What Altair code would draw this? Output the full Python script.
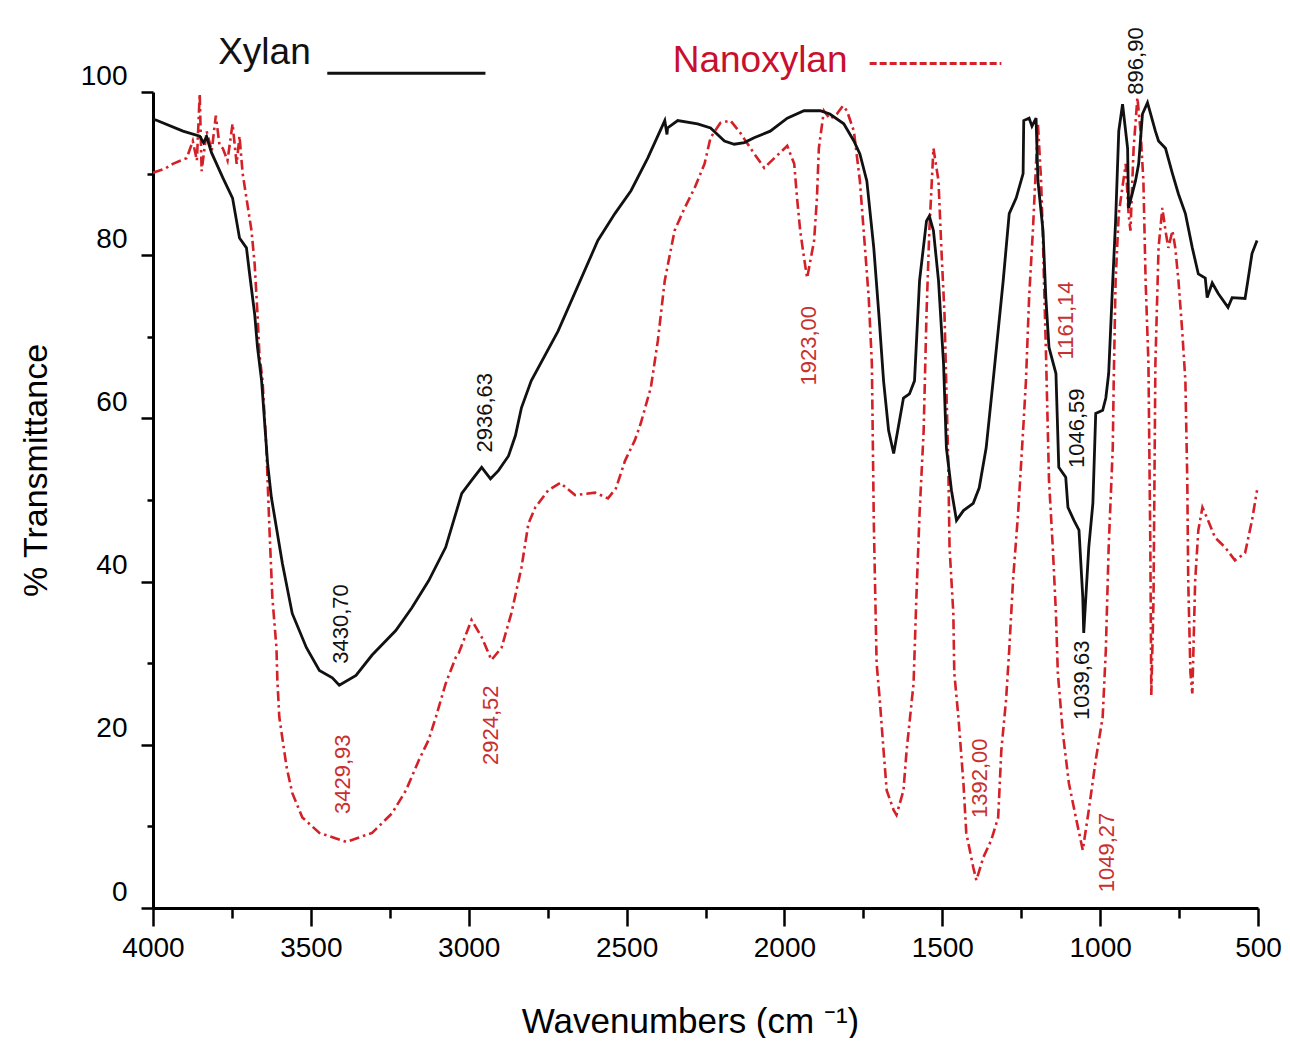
import altair as alt
import pandas as pd

# ---------------- data ----------------
xylan_wn = [4000, 3987, 3905, 3852, 3840, 3830, 3815, 3779, 3748, 3726, 3704, 3694, 3678, 3669, 3656,
            3637, 3625, 3590, 3559, 3514, 3473, 3432, 3410, 3357, 3306, 3231, 3180, 3127, 3073, 3022,
            2991, 2959, 2931, 2906, 2874, 2852, 2833, 2802, 2717, 2591, 2537, 2486, 2433, 2379, 2372,
            2370, 2338, 2275, 2234, 2190, 2159, 2127, 2096, 2045, 1991, 1938, 1887, 1856, 1812, 1780,
            1761, 1739, 1717, 1701, 1686, 1670, 1654, 1623, 1604, 1588, 1572, 1550, 1541, 1528, 1512,
            1496, 1487, 1471, 1455, 1433, 1402, 1383, 1361, 1339, 1307, 1288, 1266, 1244, 1242, 1225,
            1216, 1203, 1197, 1181, 1172, 1162, 1140, 1131, 1109, 1102, 1083, 1067, 1055, 1052, 1036,
            1023, 1014, 992, 982, 973, 960, 951, 941, 929, 913, 910, 888, 878, 866, 850, 825, 815, 793,
            771, 752, 730, 708, 689, 667, 661, 645, 626, 595, 582, 541, 532, 519, 503]
xylan_t = [96.7, 96.5, 95.2, 94.6, 93.8, 94.5, 92.6, 89.5, 87.0, 82.1, 80.9, 77.7, 72.8, 68.7, 64.6,
           54.5, 50.3, 42.2, 36.1, 31.9, 29.1, 28.2, 27.3, 28.5, 31.0, 34.0, 36.8, 40.1, 44.2, 50.8,
           52.4, 54.0, 52.6, 53.6, 55.4, 57.9, 61.3, 64.6, 70.7, 81.8, 85.1, 87.9, 91.9, 96.5, 94.8,
           95.6, 96.5, 96.1, 95.6, 94.0, 93.6, 93.8, 94.4, 95.2, 96.8, 97.7, 97.7, 97.3, 96.1, 94.0,
           92.4, 89.1, 80.9, 72.8, 64.6, 58.5, 55.7, 62.5, 63.0, 64.6, 76.9, 84.2, 84.8, 83.0, 76.9,
           66.7, 56.4, 51.2, 47.5, 48.7, 49.6, 51.5, 56.4, 64.6, 76.9, 85.1, 87.0, 90.0, 96.5, 96.8,
           95.8, 96.8, 89.1, 83.0, 74.8, 68.7, 65.5, 54.0, 52.8, 49.1, 47.5, 46.3, 38.1, 33.7, 44.2,
           49.6, 60.6, 61.0, 62.5, 65.5, 76.9, 84.2, 95.2, 98.5, 93.1, 85.8, 89.1, 91.2, 97.3, 98.7,
           95.2, 94.0, 93.1, 90.0, 87.5, 85.1, 80.9, 77.7, 77.2, 74.8, 76.6, 75.3, 73.6, 74.8, 74.7,
           76.9, 80.2, 81.8]

nano_wn = [4000, 3962, 3937, 3893, 3874, 3861, 3852, 3846, 3830, 3814, 3801, 3789, 3779, 3764, 3748,
           3735, 3726, 3716, 3704, 3688, 3678, 3669, 3663, 3653, 3641, 3637, 3631, 3622, 3609, 3606,
           3600, 3577, 3559, 3527, 3473, 3388, 3306, 3243, 3199, 3158, 3127, 3104, 3073, 3041, 3032,
           2991, 2959, 2928, 2896, 2865, 2833, 2811, 2789, 2748, 2710, 2663, 2600, 2559, 2534, 2505,
           2474, 2455, 2423, 2401, 2379, 2348, 2316, 2285, 2253, 2234, 2203, 2171, 2140, 2095, 2064,
           2032, 1991, 1969, 1960, 1950, 1938, 1928, 1906, 1897, 1891, 1875, 1856, 1834, 1815, 1802,
           1780, 1761, 1749, 1733, 1723, 1717, 1708, 1698, 1686, 1676, 1654, 1645, 1623, 1613, 1591,
           1582, 1572, 1559, 1550, 1541, 1528, 1512, 1503, 1493, 1481, 1477, 1465, 1462, 1449, 1433,
           1424, 1402, 1392, 1370, 1345, 1323, 1313, 1298, 1288, 1276, 1260, 1244, 1235, 1225, 1213,
           1203, 1197, 1187, 1181, 1178, 1172, 1162, 1150, 1140, 1134, 1118, 1099, 1077, 1055, 1036,
           1014, 992, 982, 973, 960, 957, 951, 941, 919, 910, 904, 894, 882, 872, 863, 856, 847, 841,
           838, 831, 825, 815, 803, 793, 784, 771, 762, 752, 740, 730, 724, 721, 714, 708, 699, 689,
           676, 658, 636, 604, 573, 541, 519, 503]
nano_t = [90.1, 90.6, 91.2, 91.9, 94.0, 91.6, 99.8, 90.3, 95.2, 92.8, 97.1, 93.4, 93.1, 91.6, 96.1,
          91.2, 94.6, 90.0, 87.0, 83.0, 78.9, 72.8, 67.9, 64.6, 56.4, 52.4, 46.3, 38.1, 31.9, 27.9,
          23.4, 17.3, 14.1, 11.1, 9.2, 8.1, 9.2, 11.6, 14.4, 18.1, 20.6, 23.4, 27.5, 30.7, 31.2,
          35.3, 33.2, 30.4, 31.9, 36.1, 41.7, 47.1, 49.1, 51.2, 52.1, 50.6, 50.9, 50.2, 51.4, 54.8,
          57.3, 59.4, 63.8, 69.5, 76.9, 83.0, 85.8, 88.2, 91.2, 94.4, 96.2, 96.5, 95.0, 92.4, 90.7,
          91.9, 93.4, 91.2, 87.0, 83.0, 79.7, 77.2, 81.8, 87.0, 93.1, 97.7, 96.7, 97.3, 98.3, 97.7,
          95.2, 89.1, 83.0, 74.8, 66.7, 47.5, 30.0, 25.5, 19.3, 14.4, 12.0, 11.4, 14.4, 19.3, 27.5,
          38.1, 48.3, 58.5, 72.8, 83.0, 93.1, 89.1, 80.9, 72.8, 54.5, 44.2, 36.1, 28.8, 23.4, 15.3,
          9.2, 5.0, 3.4, 6.2, 8.3, 11.1, 19.3, 25.5, 31.6, 40.1, 48.3, 58.5, 64.6, 74.8, 83.0,
          91.2, 96.1, 89.1, 81.8, 76.9, 68.7, 52.4, 44.2, 36.1, 28.8, 21.4, 15.3, 11.1, 7.1, 12.0,
          18.1, 23.4, 31.6, 44.2, 56.4, 64.6, 76.9, 85.1, 91.2, 85.1, 83.0, 93.1, 99.3, 95.2, 89.1,
          76.9, 66.7, 44.2, 26.1, 37.7, 66.7, 80.9, 85.8, 83.0, 80.9, 83.0, 80.9, 76.9, 70.7, 64.6,
          52.4, 40.1, 28.8, 26.3, 40.1, 46.3, 49.1, 47.5, 45.4, 44.2, 42.6, 43.5, 47.5, 51.2]

# peak annotations (label text, anchor wavenumber, anchor %T)
black_labels = ["3430,70", "2936,63", "1046,59", "1039,63", "896,90"]
black_lab_wn = [3404, 2947, 1072, 1056, 888]
black_lab_t = [34.8, 60.7, 58.8, 27.9, 103.8]
red_labels = ["3429,93", "2924,52", "1923,00", "1161,14", "1392,00", "1049,27"]
red_lab_wn = [3398, 2928, 1922, 1108, 1380, 977]
red_lab_t = [16.4, 22.4, 68.9, 72.0, 15.9, 6.8]

# legend entries placed in data space above the plot
legend_names = ["Xylan", "Nanoxylan"]
legend_wn = [3647, 2077]
legend_t = [104.8, 103.8]
legend_line_start = [3448, 1730]
legend_line_end = [2947, 1313]
legend_line_t = [102.3, 103.5]

BLACK = "#111111"
RED = "#d42027"
FONT = "Liberation Sans"

xy = pd.DataFrame({"wn": xylan_wn, "t": xylan_t, "idx": range(len(xylan_wn))})
nx = pd.DataFrame({"wn": nano_wn, "t": nano_t, "idx": range(len(nano_wn))})

x_scale = alt.Scale(domain=[500, 4000], reverse=True, nice=False, zero=False)
y_scale = alt.Scale(domain=[0, 100], nice=False)

x_axis = alt.Axis(
    title="Wavenumbers (cm \u207b\u00b9)",
    values=list(range(500, 4001, 250)),
    labelExpr="datum.value % 500 === 0 ? datum.label : ''",
    format="d",
    labelFlush=False,
    tickSize={"condition": {"test": "datum.value % 500 === 0", "value": 18}, "value": 10},
    tickWidth=2.5, tickColor="black",
    domainColor="black", domainWidth=3,
    labelFont=FONT, labelFontSize=28, labelColor="black", labelPadding=8,
    titleFont=FONT, titleFontSize=35, titleFontWeight="normal", titleColor="black",
    titlePadding=42, titleX=537, grid=False,
)
y_axis = alt.Axis(
    title="% Transmittance",
    values=list(range(0, 101, 10)),
    labelExpr="datum.value % 20 === 0 ? datum.label : ''",
    labelFlush=False,
    tickSize={"condition": {"test": "datum.value % 20 === 0", "value": 12}, "value": 6},
    tickWidth=2.5, tickColor="black",
    domainColor="black", domainWidth=3,
    labelFont=FONT, labelFontSize=28, labelColor="black", labelPadding=14,
    labelOffset=-16,
    titleFont=FONT, titleFontSize=34, titleFontWeight="normal", titleColor="black",
    titleAngle=270, titleX=-117, titleY=378, titleAlign="center", titleBaseline="middle",
    grid=False,
)

black_line = alt.Chart(xy).mark_line(color=BLACK, strokeWidth=2.8).encode(
    x=alt.X("wn:Q", scale=x_scale, axis=x_axis),
    y=alt.Y("t:Q", scale=y_scale, axis=y_axis),
    order="idx:Q",
)
red_line = alt.Chart(nx).mark_line(color=RED, strokeWidth=2.6, strokeDash=[10, 4, 2.5, 4]).encode(
    x=alt.X("wn:Q", scale=x_scale),
    y=alt.Y("t:Q", scale=y_scale),
    order="idx:Q",
)

bl = pd.DataFrame({"label": black_labels, "wn": black_lab_wn, "t": black_lab_t})
rl = pd.DataFrame({"label": red_labels, "wn": red_lab_wn, "t": red_lab_t})
black_text = alt.Chart(bl).mark_text(
    angle=270, align="center", baseline="middle", font=FONT, fontSize=22, color=BLACK
).encode(x=alt.X("wn:Q", scale=x_scale), y=alt.Y("t:Q", scale=y_scale), text="label:N")
red_text = alt.Chart(rl).mark_text(
    angle=270, align="center", baseline="middle", font=FONT, fontSize=22, color="#c8302f"
).encode(x=alt.X("wn:Q", scale=x_scale), y=alt.Y("t:Q", scale=y_scale), text="label:N")

lg = pd.DataFrame({"name": legend_names, "wn": legend_wn, "t": legend_t,
                   "x1": legend_line_start, "x2": legend_line_end, "lt": legend_line_t})
legend_text = alt.Chart(lg).mark_text(
    align="center", baseline="middle", font=FONT, fontSize=37
).encode(
    x=alt.X("wn:Q", scale=x_scale), y=alt.Y("t:Q", scale=y_scale), text="name:N",
    color=alt.Color("name:N", scale=alt.Scale(domain=legend_names, range=[BLACK, "#c8102e"]), legend=None),
)
legend_black = alt.Chart(lg.iloc[[0]]).mark_rule(color=BLACK, strokeWidth=3).encode(
    x=alt.X("x1:Q", scale=x_scale), x2="x2:Q", y=alt.Y("lt:Q", scale=y_scale)
)
legend_red = alt.Chart(lg.iloc[[1]]).mark_rule(color=RED, strokeWidth=3, strokeDash=[7, 3]).encode(
    x=alt.X("x1:Q", scale=x_scale), x2="x2:Q", y=alt.Y("lt:Q", scale=y_scale)
)

chart = alt.layer(
    red_line, black_line, black_text, red_text, legend_text, legend_black, legend_red
).properties(
    width=1105, height=816,
    autosize=alt.AutoSizeParams(type="none"),
    padding={"left": 145, "top": 84, "right": 24, "bottom": 130},
    background="white",
).configure_view(stroke=None)

chart.save("out.html", embed_options={"renderer": "svg", "actions": False})
